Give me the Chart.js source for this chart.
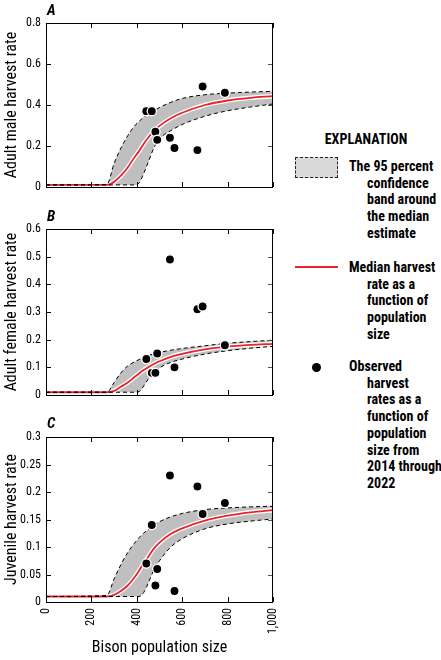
<!DOCTYPE html>
<html><head><meta charset="utf-8">
<script src="https://cdn.jsdelivr.net/npm/chart.js@4.4.1/dist/chart.umd.min.js"></script>
<style>
html,body{margin:0;padding:0;background:#fff;}
body{width:441px;height:660px;position:relative;overflow:hidden;font-family:'Roboto Condensed','Open Sans Condensed',sans-serif;color:#000;}
canvas{position:absolute;left:0;}
.plab{position:absolute;font-weight:bold;font-style:italic;font-size:15px;line-height:15px;}
.leg{position:absolute;font-weight:bold;font-size:14px;line-height:16.7px;white-space:nowrap;padding-left:18px;text-indent:-18px;}
</style></head>
<body>
<canvas id="cA" width="280" height="200" style="top:0px"></canvas>
<canvas id="cB" width="280" height="210" style="top:200px"></canvas>
<canvas id="cC" width="280" height="260" style="top:400px"></canvas>
<div class="plab" style="left:47px;top:3px">A</div>
<div class="plab" style="left:47px;top:209px">B</div>
<div class="plab" style="left:47px;top:416px">C</div>

<div style="position:absolute;left:300px;top:131px;width:132px;text-align:center;font-weight:bold;font-size:14px;line-height:17px;">EXPLANATION</div>
<div style="position:absolute;left:295px;top:157px;width:41px;height:19px;background:#d9d9d9;border:1px dashed #222;"></div>
<div class="leg" style="left:349px;top:158px">The 95 percent<br>confidence<br>band around<br>the median<br>estimate</div>
<div style="position:absolute;left:295px;top:266px;width:43px;height:1.6px;background:#e8232a;"></div>
<div class="leg" style="left:349px;top:259px">Median harvest<br>rate as a<br>function of<br>population<br>size</div>
<div style="position:absolute;left:312px;top:363px;width:9.4px;height:9.4px;border-radius:50%;background:#000;"></div>
<div class="leg" style="left:349px;top:358px">Observed<br>harvest<br>rates as a<br>function of<br>population<br>size from<br>2014 through<br>2022</div>

<script>
// ---- data ----
const populationGrid = [0, 268, 300, 330, 360, 390, 410, 430, 450, 475, 500, 550, 600, 700, 800, 900, 1000];

const maleUpper  = [0.01, 0.012, 0.115, 0.19, 0.25, 0.298, 0.32, 0.34, 0.355, 0.372, 0.388, 0.413, 0.432, 0.450, 0.458, 0.463, 0.467];
const maleMedian = [0.01, 0.01, 0.025, 0.055, 0.095, 0.145, 0.175, 0.21, 0.24, 0.272, 0.298, 0.335, 0.362, 0.400, 0.422, 0.435, 0.443];
const maleLower  = [0.01, 0.01, 0.01, 0.01, 0.01, 0.01, 0.02, 0.065, 0.12, 0.19, 0.235, 0.275, 0.305, 0.345, 0.372, 0.39, 0.405];

const femaleUpper  = [0.01, 0.01, 0.045, 0.08, 0.105, 0.12, 0.128, 0.136, 0.142, 0.149, 0.154, 0.162, 0.168, 0.178, 0.187, 0.193, 0.198];
const femaleMedian = [0.01, 0.01, 0.015, 0.03, 0.045, 0.065, 0.078, 0.09, 0.10, 0.112, 0.122, 0.138, 0.149, 0.165, 0.175, 0.181, 0.185];
const femaleLower  = [0.01, 0.01, 0.01, 0.01, 0.01, 0.01, 0.012, 0.032, 0.057, 0.08, 0.098, 0.118, 0.13, 0.148, 0.16, 0.169, 0.176];

const juvenileUpper  = [0.01, 0.012, 0.042, 0.068, 0.09, 0.107, 0.117, 0.125, 0.132, 0.14, 0.146, 0.155, 0.161, 0.168, 0.171, 0.173, 0.174];
const juvenileMedian = [0.01, 0.01, 0.013, 0.02, 0.03, 0.045, 0.057, 0.07, 0.082, 0.097, 0.108, 0.124, 0.134, 0.148, 0.157, 0.163, 0.167];
const juvenileLower  = [0.01, 0.01, 0.01, 0.01, 0.01, 0.01, 0.01, 0.017, 0.034, 0.058, 0.075, 0.10, 0.115, 0.133, 0.142, 0.147, 0.151];

const observedPopulation = [442, 466, 482, 490, 546, 566, 667, 690, 788];
const maleObserved     = [0.37, 0.37, 0.27, 0.23, 0.24, 0.19, 0.18, 0.49, 0.46];
const femaleObserved   = [0.13, 0.08, 0.08, 0.15, 0.49, 0.10, 0.31, 0.32, 0.18];
const juvenileObserved = [0.07, 0.14, 0.03, 0.06, 0.23, 0.02, 0.21, 0.16, 0.18];

const xTicks = [0, 200, 400, 600, 800, 1000];

// ---- rendering ----
const FONT = "'Roboto Condensed','Open Sans Condensed',sans-serif";
Chart.defaults.font.family = FONT;
Chart.defaults.color = '#000';

const RED = '#e8232a', BAND = '#bfbfbf';

const framePlugin = {
  id: 'frame',
  afterDraw(chart) {
    const {ctx, chartArea: a, scales: {x, y}} = chart;
    const L = 5;
    ctx.save();
    ctx.lineWidth = 1;
    ctx.strokeStyle = '#000';
    ctx.beginPath();
    x.ticks.forEach(t => {
      const px = Math.round(x.getPixelForValue(t.value)) + 0.5;
      ctx.moveTo(px, a.bottom); ctx.lineTo(px, a.bottom - L);
      ctx.moveTo(px, a.top); ctx.lineTo(px, a.top + L);
    });
    y.ticks.forEach(t => {
      const py = Math.round(y.getPixelForValue(t.value)) + 0.5;
      ctx.moveTo(a.left, py); ctx.lineTo(a.left + L, py);
    });
    ctx.stroke();
    ctx.strokeStyle = '#555';
    ctx.beginPath();
    y.ticks.forEach(t => {
      const py = Math.round(y.getPixelForValue(t.value)) + 0.5;
      ctx.moveTo(a.right, py); ctx.lineTo(a.right - L, py);
    });
    ctx.stroke();
    ctx.strokeStyle = '#000';
    ctx.strokeRect(Math.round(a.left) + 0.5, Math.round(a.top) + 0.5, Math.round(a.right - a.left) - 1, Math.round(a.bottom - a.top));
    ctx.restore();
  }
};

function pts(xs, ys) { return xs.map((v, i) => ({x: v, y: ys[i]})); }

function makePanel(id, H, top, bottom, upper, median, lower, obs, yMax, yStep, yTitle, showX) {
  const lineBase = {pointRadius: 0, tension: 0, cubicInterpolationMode: 'monotone', fill: false};
  new Chart(document.getElementById(id), {
    type: 'line',
    data: {
      datasets: [
        {data: pts(observedPopulation, obs), showLine: false, pointRadius: 4.6, pointBorderWidth: 1.3,
         pointBackgroundColor: '#000', pointBorderColor: '#fff', order: 0},
        Object.assign({data: pts(populationGrid, upper), borderColor: '#000', borderWidth: 1, borderDash: [4, 3], order: 1}, lineBase),
        Object.assign({data: pts(populationGrid, lower), borderColor: '#000', borderWidth: 1, borderDash: [4, 3], order: 1}, lineBase),
        Object.assign({data: pts(populationGrid, median), borderColor: RED, borderWidth: 1.8, order: 2}, lineBase),
        Object.assign({data: pts(populationGrid, median), borderColor: '#fff', borderWidth: 4.5, order: 3}, lineBase),
        Object.assign({}, lineBase, {data: pts(populationGrid, upper), borderWidth: 0, borderColor: 'rgba(0,0,0,0)', backgroundColor: BAND, fill: 6, order: 5}),
        Object.assign({data: pts(populationGrid, lower), borderWidth: 0, borderColor: 'rgba(0,0,0,0)', order: 4}, lineBase)
      ]
    },
    options: {
      responsive: false, animation: false, devicePixelRatio: 1,
      layout: {autoPadding: false, padding: {top: top, right: 7, bottom: 0, left: 0}},
      plugins: {legend: {display: false}, tooltip: {enabled: false}},
      scales: {
        x: {
          type: 'linear', min: 0, max: 1000,
          afterBuildTicks: s => { s.ticks = xTicks.map(v => ({value: v})); },
          afterFit: s => { s.height = H - bottom; s.paddingLeft = 0; s.paddingRight = 0; },
          grid: {display: false, drawTicks: false}, border: {display: false},
          ticks: {display: showX, minRotation: 90, maxRotation: 90, padding: 6, font: {size: 12},
                  callback: v => v === 1000 ? '1,000' : String(v)},
          title: {display: showX, text: 'Bison population size', font: {size: 16}, padding: {top: 0, bottom: 2}}
        },
        y: {
          min: 0, max: yMax,
          ticks: {stepSize: yStep, padding: 5, font: {size: 12}, callback: v => String(+v.toFixed(2))},
          afterFit: s => { s.width = 46; s.paddingTop = 0; s.paddingBottom = 0; },
          grid: {display: false, drawTicks: false}, border: {display: false},
          title: {display: true, text: yTitle, font: {size: 16}, padding: {top: 2, bottom: 0}}
        }
      }
    },
    plugins: [framePlugin]
  });
}

makePanel('cA', 200, 23, 187, maleUpper, maleMedian, maleLower, maleObserved, 0.8, 0.2, 'Adult male harvest rate', false);
makePanel('cB', 210, 29, 195, femaleUpper, femaleMedian, femaleLower, femaleObserved, 0.6, 0.1, 'Adult female harvest rate', false);
makePanel('cC', 260, 37, 202, juvenileUpper, juvenileMedian, juvenileLower, juvenileObserved, 0.3, 0.05, 'Juvenile harvest rate', true);
</script>
</body></html>
